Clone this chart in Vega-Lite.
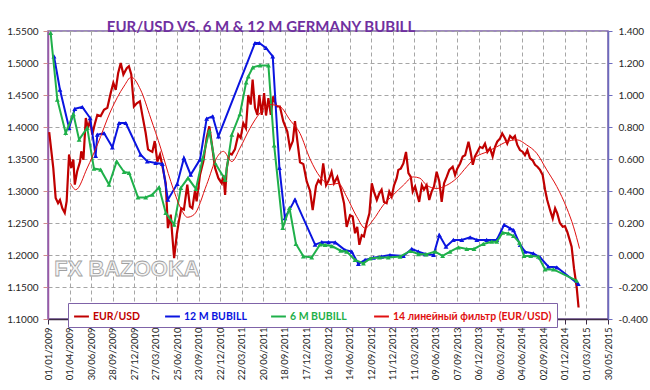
{
  "$schema": "https://vega.github.io/schema/vega-lite/v6.json",
  "width": 560,
  "height": 288,
  "autosize": {"type": "none"},
  "padding": {"left": 48, "top": 31, "right": 42, "bottom": 71},
  "background": "#ffffff",
  "config": {
    "view": {"stroke": "#7f63a8", "strokeWidth": 1.5},
    "font": "Lato",
    "axis": {"labelFont": "Lato", "labelFontSize": 10, "labelColor": "#262626", "title": null}
  },
  "title": {
    "text": "EUR/USD VS. 6 M & 12 M GERMANY BUBILL",
    "frame": "group",
    "anchor": "middle",
    "dx": -67,
    "offset": -9,
    "font": "Lato",
    "fontSize": 15,
    "fontWeight": "bold",
    "color": "#7030a0"
  },
  "datasets": {
    "eurusd": [
      {"date":"2009-01-06","rate":1.392},{"date":"2009-01-23","rate":1.336},{"date":"2009-02-02","rate":1.289},{"date":"2009-02-12","rate":1.281},{"date":"2009-02-20","rate":1.286},{"date":"2009-03-02","rate":1.273},{"date":"2009-03-12","rate":1.266},{"date":"2009-03-20","rate":1.284},{"date":"2009-03-30","rate":1.357},{"date":"2009-04-08","rate":1.336},{"date":"2009-04-17","rate":1.349},{"date":"2009-04-23","rate":1.310},{"date":"2009-05-03","rate":1.331},{"date":"2009-05-15","rate":1.346},{"date":"2009-05-20","rate":1.362},{"date":"2009-05-29","rate":1.349},{"date":"2009-06-08","rate":1.414},{"date":"2009-06-17","rate":1.398},{"date":"2009-06-26","rate":1.411},{"date":"2009-07-05","rate":1.388},{"date":"2009-07-15","rate":1.404},{"date":"2009-07-26","rate":1.419},{"date":"2009-08-09","rate":1.417},{"date":"2009-08-23","rate":1.427},{"date":"2009-09-06","rate":1.430},{"date":"2009-09-20","rate":1.453},{"date":"2009-10-01","rate":1.469},{"date":"2009-10-11","rate":1.458},{"date":"2009-10-21","rate":1.484},{"date":"2009-11-01","rate":1.500},{"date":"2009-11-12","rate":1.482},{"date":"2009-11-26","rate":1.492},{"date":"2009-12-05","rate":1.495},{"date":"2009-12-15","rate":1.482},{"date":"2009-12-26","rate":1.432},
      {"date":"2010-01-07","rate":1.437},{"date":"2010-01-20","rate":1.440},{"date":"2010-01-30","rate":1.419},{"date":"2010-02-13","rate":1.391},{"date":"2010-02-23","rate":1.365},{"date":"2010-03-03","rate":1.363},{"date":"2010-03-13","rate":1.361},{"date":"2010-03-23","rate":1.378},{"date":"2010-04-03","rate":1.346},{"date":"2010-04-14","rate":1.357},{"date":"2010-04-24","rate":1.339},{"date":"2010-05-08","rate":1.312},{"date":"2010-05-17","rate":1.242},{"date":"2010-05-29","rate":1.263},{"date":"2010-06-04","rate":1.232},{"date":"2010-06-12","rate":1.195},{"date":"2010-06-23","rate":1.232},{"date":"2010-07-02","rate":1.253},{"date":"2010-07-12","rate":1.273},{"date":"2010-07-23","rate":1.271},{"date":"2010-08-06","rate":1.310},{"date":"2010-08-17","rate":1.276},{"date":"2010-08-27","rate":1.273},{"date":"2010-09-07","rate":1.300},{"date":"2010-09-14","rate":1.284},{"date":"2010-09-28","rate":1.325},{"date":"2010-10-12","rate":1.346},{"date":"2010-10-26","rate":1.383},{"date":"2010-11-06","rate":1.401},{"date":"2010-11-16","rate":1.375},{"date":"2010-11-30","rate":1.336},{"date":"2010-12-14","rate":1.320},{"date":"2010-12-28","rate":1.312},
      {"date":"2011-01-04","rate":1.325},{"date":"2011-01-11","rate":1.294},{"date":"2011-01-18","rate":1.336},{"date":"2011-01-29","rate":1.359},{"date":"2011-02-08","rate":1.357},{"date":"2011-02-21","rate":1.365},{"date":"2011-03-07","rate":1.388},{"date":"2011-03-17","rate":1.383},{"date":"2011-03-28","rate":1.406},{"date":"2011-04-08","rate":1.398},{"date":"2011-04-18","rate":1.450},{"date":"2011-04-28","rate":1.435},{"date":"2011-05-06","rate":1.474},{"date":"2011-05-16","rate":1.430},{"date":"2011-05-26","rate":1.419},{"date":"2011-06-03","rate":1.450},{"date":"2011-06-13","rate":1.419},{"date":"2011-06-23","rate":1.453},{"date":"2011-07-01","rate":1.418},{"date":"2011-07-11","rate":1.445},{"date":"2011-07-21","rate":1.419},{"date":"2011-07-31","rate":1.448},{"date":"2011-08-14","rate":1.432},{"date":"2011-08-28","rate":1.432},{"date":"2011-09-11","rate":1.409},{"date":"2011-09-28","rate":1.393},{"date":"2011-10-09","rate":1.367},{"date":"2011-10-21","rate":1.378},{"date":"2011-10-30","rate":1.409},{"date":"2011-11-09","rate":1.378},{"date":"2011-11-20","rate":1.345},{"date":"2011-12-04","rate":1.342},{"date":"2011-12-18","rate":1.315},
      {"date":"2012-01-01","rate":1.300},{"date":"2012-01-12","rate":1.270},{"date":"2012-01-26","rate":1.308},{"date":"2012-02-05","rate":1.317},{"date":"2012-02-15","rate":1.312},{"date":"2012-02-25","rate":1.343},{"date":"2012-03-08","rate":1.309},{"date":"2012-03-17","rate":1.315},{"date":"2012-03-31","rate":1.330},{"date":"2012-04-10","rate":1.312},{"date":"2012-04-24","rate":1.322},{"date":"2012-05-08","rate":1.304},{"date":"2012-05-22","rate":1.281},{"date":"2012-06-02","rate":1.244},{"date":"2012-06-16","rate":1.262},{"date":"2012-06-27","rate":1.260},{"date":"2012-07-07","rate":1.234},{"date":"2012-07-16","rate":1.244},{"date":"2012-07-25","rate":1.216},{"date":"2012-08-04","rate":1.231},{"date":"2012-08-13","rate":1.229},{"date":"2012-08-25","rate":1.250},{"date":"2012-09-05","rate":1.265},{"date":"2012-09-15","rate":1.312},{"date":"2012-09-24","rate":1.299},{"date":"2012-10-06","rate":1.286},{"date":"2012-10-16","rate":1.296},{"date":"2012-10-26","rate":1.302},{"date":"2012-11-05","rate":1.283},{"date":"2012-11-16","rate":1.281},{"date":"2012-11-27","rate":1.299},{"date":"2012-12-07","rate":1.291},{"date":"2012-12-17","rate":1.309},{"date":"2012-12-28","rate":1.320},
      {"date":"2013-01-04","rate":1.333},{"date":"2013-01-14","rate":1.335},{"date":"2013-01-25","rate":1.343},{"date":"2013-02-05","rate":1.361},{"date":"2013-02-15","rate":1.328},{"date":"2013-02-25","rate":1.322},{"date":"2013-03-05","rate":1.299},{"date":"2013-03-15","rate":1.307},{"date":"2013-03-24","rate":1.294},{"date":"2013-04-01","rate":1.283},{"date":"2013-04-12","rate":1.309},{"date":"2013-04-21","rate":1.302},{"date":"2013-05-02","rate":1.309},{"date":"2013-05-13","rate":1.286},{"date":"2013-05-23","rate":1.299},{"date":"2013-06-02","rate":1.307},{"date":"2013-06-13","rate":1.330},{"date":"2013-06-24","rate":1.315},{"date":"2013-07-04","rate":1.283},{"date":"2013-07-14","rate":1.312},{"date":"2013-07-25","rate":1.322},{"date":"2013-08-05","rate":1.333},{"date":"2013-08-19","rate":1.338},{"date":"2013-08-29","rate":1.325},{"date":"2013-09-07","rate":1.335},{"date":"2013-09-19","rate":1.343},{"date":"2013-09-30","rate":1.354},{"date":"2013-10-10","rate":1.356},{"date":"2013-10-24","rate":1.377},{"date":"2013-11-02","rate":1.361},{"date":"2013-11-11","rate":1.341},{"date":"2013-11-20","rate":1.354},{"date":"2013-11-30","rate":1.361},{"date":"2013-12-11","rate":1.369},{"date":"2013-12-22","rate":1.367},
      {"date":"2014-01-01","rate":1.374},{"date":"2014-01-11","rate":1.361},{"date":"2014-01-22","rate":1.367},{"date":"2014-02-02","rate":1.354},{"date":"2014-02-12","rate":1.369},{"date":"2014-02-21","rate":1.377},{"date":"2014-03-05","rate":1.382},{"date":"2014-03-14","rate":1.390},{"date":"2014-03-26","rate":1.382},{"date":"2014-04-04","rate":1.374},{"date":"2014-04-16","rate":1.386},{"date":"2014-04-27","rate":1.382},{"date":"2014-05-06","rate":1.386},{"date":"2014-05-16","rate":1.372},{"date":"2014-05-27","rate":1.364},{"date":"2014-06-08","rate":1.361},{"date":"2014-06-17","rate":1.356},{"date":"2014-06-27","rate":1.364},{"date":"2014-07-08","rate":1.351},{"date":"2014-07-19","rate":1.348},{"date":"2014-07-29","rate":1.341},{"date":"2014-08-08","rate":1.338},{"date":"2014-08-19","rate":1.333},{"date":"2014-08-30","rate":1.325},{"date":"2014-09-09","rate":1.302},{"date":"2014-09-18","rate":1.286},{"date":"2014-09-30","rate":1.270},{"date":"2014-10-11","rate":1.257},{"date":"2014-10-21","rate":1.273},{"date":"2014-10-30","rate":1.265},{"date":"2014-11-10","rate":1.250},{"date":"2014-11-22","rate":1.244},{"date":"2014-12-01","rate":1.245},{"date":"2014-12-11","rate":1.236},{"date":"2014-12-19","rate":1.226},{"date":"2014-12-29","rate":1.213},
      {"date":"2015-01-08","rate":1.179},{"date":"2015-01-19","rate":1.150},{"date":"2015-01-27","rate":1.118}
    ],
    "filter14": [
      {"date":"2009-04-05","rate":1.312},{"date":"2009-04-27","rate":1.302},{"date":"2009-06-14","rate":1.336},{"date":"2009-07-26","rate":1.372},{"date":"2009-09-20","rate":1.425},{"date":"2009-11-15","rate":1.464},{"date":"2009-12-15","rate":1.478},{"date":"2010-01-23","rate":1.458},{"date":"2010-03-06","rate":1.414},{"date":"2010-04-17","rate":1.367},{"date":"2010-05-29","rate":1.315},{"date":"2010-07-10","rate":1.273},{"date":"2010-08-06","rate":1.259},{"date":"2010-09-03","rate":1.263},{"date":"2010-10-26","rate":1.310},{"date":"2010-12-07","rate":1.352},{"date":"2011-01-04","rate":1.362},{"date":"2011-02-08","rate":1.346},{"date":"2011-03-14","rate":1.367},{"date":"2011-04-25","rate":1.398},{"date":"2011-06-06","rate":1.422},{"date":"2011-07-18","rate":1.435},{"date":"2011-08-28","rate":1.432},{"date":"2011-10-09","rate":1.411},{"date":"2011-11-20","rate":1.390},{"date":"2012-01-01","rate":1.350},{"date":"2012-02-12","rate":1.322},{"date":"2012-03-24","rate":1.310},{"date":"2012-04-28","rate":1.312},{"date":"2012-06-02","rate":1.291},{"date":"2012-07-14","rate":1.260},{"date":"2012-08-18","rate":1.242},{"date":"2012-09-21","rate":1.255},{"date":"2012-11-02","rate":1.278},{"date":"2012-12-14","rate":1.294},{"date":"2013-01-25","rate":1.309},{"date":"2013-03-07","rate":1.322},{"date":"2013-04-04","rate":1.320},{"date":"2013-05-02","rate":1.309},{"date":"2013-06-13","rate":1.304},{"date":"2013-07-25","rate":1.309},{"date":"2013-09-05","rate":1.320},{"date":"2013-10-17","rate":1.338},{"date":"2013-11-27","rate":1.354},{"date":"2014-01-08","rate":1.361},{"date":"2014-02-19","rate":1.369},{"date":"2014-04-02","rate":1.377},{"date":"2014-05-14","rate":1.380},{"date":"2014-06-24","rate":1.372},{"date":"2014-08-05","rate":1.359},{"date":"2014-09-16","rate":1.333},{"date":"2014-10-28","rate":1.307},{"date":"2014-12-09","rate":1.273},{"date":"2015-01-06","rate":1.244},{"date":"2015-01-31","rate":1.210}
    ],
    "bubill12": [
      {"date":"2009-01-26","yield":1.242},{"date":"2009-02-20","yield":1.033},{"date":"2009-03-30","yield":0.794},{"date":"2009-04-23","yield":0.914},{"date":"2009-05-24","yield":0.925},{"date":"2009-06-26","yield":0.856},{"date":"2009-07-19","yield":0.619},{"date":"2009-07-26","yield":0.752},{"date":"2009-08-23","yield":0.762},{"date":"2009-09-27","yield":0.673},{"date":"2009-10-25","yield":0.825},{"date":"2009-11-22","yield":0.825},{"date":"2010-01-23","yield":0.627},{"date":"2010-02-20","yield":0.585},{"date":"2010-03-27","yield":0.575},{"date":"2010-04-24","yield":0.569},{"date":"2010-05-17","yield":0.346},{"date":"2010-06-25","yield":0.444},{"date":"2010-07-23","yield":0.606},{"date":"2010-08-20","yield":0.502},{"date":"2010-09-28","yield":0.596},{"date":"2010-10-26","yield":0.852},{"date":"2010-11-20","yield":0.867},{"date":"2010-12-14","yield":0.742},{"date":"2011-05-16","yield":1.325},{"date":"2011-06-03","yield":1.325},{"date":"2011-07-01","yield":1.294},{"date":"2011-07-29","yield":1.242},{"date":"2011-08-26","yield":0.544},{"date":"2011-09-18","yield":0.231},{"date":"2011-10-30","yield":0.346},{"date":"2012-01-22","yield":0.065},{"date":"2012-02-19","yield":0.080},{"date":"2012-03-18","yield":0.080},{"date":"2012-04-15","yield":0.079},{"date":"2012-05-26","yield":0.031},{"date":"2012-06-23","yield":0.021},{"date":"2012-07-21","yield":-0.056},{"date":"2012-08-18","yield":-0.031},{"date":"2012-09-22","yield":-0.017},{"date":"2012-10-26","yield":-0.010},{"date":"2012-11-30","yield":0.000},{"date":"2013-01-25","yield":-0.006},{"date":"2013-03-01","yield":0.038},{"date":"2013-03-29","yield":0.021},{"date":"2013-04-26","yield":0.006},{"date":"2013-05-31","yield":0.000},{"date":"2013-06-24","yield":0.125},{"date":"2013-07-22","yield":0.052},{"date":"2013-08-22","yield":0.094},{"date":"2013-09-26","yield":0.094},{"date":"2013-10-31","yield":0.110},{"date":"2013-11-28","yield":0.094},{"date":"2014-01-08","yield":0.094},{"date":"2014-02-19","yield":0.094},{"date":"2014-03-22","yield":0.188},{"date":"2014-04-16","yield":0.167},{"date":"2014-04-30","yield":0.156},{"date":"2014-05-28","yield":0.063},{"date":"2014-06-17","yield":0.021},{"date":"2014-07-22","yield":0.010},{"date":"2014-08-19","yield":-0.015},{"date":"2014-09-23","yield":-0.073},{"date":"2014-10-28","yield":-0.077},{"date":"2015-01-26","yield":-0.181}
    ],
    "bubill6": [
      {"date":"2009-01-12","yield":1.388},{"date":"2009-02-09","yield":0.971},{"date":"2009-03-16","yield":0.763},{"date":"2009-04-17","yield":0.881},{"date":"2009-05-11","yield":0.721},{"date":"2009-06-14","yield":0.794},{"date":"2009-07-12","yield":0.540},{"date":"2009-08-09","yield":0.533},{"date":"2009-09-13","yield":0.440},{"date":"2009-10-15","yield":0.585},{"date":"2009-11-15","yield":0.519},{"date":"2009-12-06","yield":0.513},{"date":"2010-01-12","yield":0.360},{"date":"2010-02-13","yield":0.360},{"date":"2010-03-13","yield":0.377},{"date":"2010-04-10","yield":0.423},{"date":"2010-05-08","yield":0.263},{"date":"2010-06-12","yield":0.190},{"date":"2010-07-10","yield":0.419},{"date":"2010-08-09","yield":0.481},{"date":"2010-09-11","yield":0.413},{"date":"2010-10-10","yield":0.606},{"date":"2010-11-06","yield":0.777},{"date":"2010-11-30","yield":0.575},{"date":"2011-01-11","yield":0.471},{"date":"2011-02-08","yield":0.752},{"date":"2011-03-14","yield":0.881},{"date":"2011-04-09","yield":1.079},{"date":"2011-04-18","yield":1.117},{"date":"2011-05-07","yield":1.173},{"date":"2011-06-06","yield":1.185},{"date":"2011-07-11","yield":1.185},{"date":"2011-08-04","yield":0.685},{"date":"2011-09-09","yield":0.169},{"date":"2011-10-07","yield":0.294},{"date":"2011-11-03","yield":0.069},{"date":"2011-12-04","yield":-0.008},{"date":"2012-01-08","yield":-0.015},{"date":"2012-02-12","yield":0.066},{"date":"2012-03-04","yield":0.063},{"date":"2012-04-01","yield":0.056},{"date":"2012-05-08","yield":0.027},{"date":"2012-06-02","yield":0.021},{"date":"2012-07-07","yield":-0.031},{"date":"2012-08-11","yield":-0.052},{"date":"2012-09-08","yield":-0.021},{"date":"2012-10-17","yield":-0.015},{"date":"2012-11-23","yield":-0.015},{"date":"2013-01-11","yield":-0.010},{"date":"2013-02-22","yield":0.025},{"date":"2013-03-29","yield":0.006},{"date":"2013-04-30","yield":0.004},{"date":"2013-06-06","yield":0.021},{"date":"2013-07-08","yield":-0.006},{"date":"2013-08-08","yield":0.021},{"date":"2013-09-12","yield":0.048},{"date":"2013-10-17","yield":0.038},{"date":"2013-11-16","yield":0.038},{"date":"2013-12-25","yield":0.069},{"date":"2014-01-29","yield":0.083},{"date":"2014-02-19","yield":0.083},{"date":"2014-03-16","yield":0.140},{"date":"2014-04-09","yield":0.135},{"date":"2014-04-30","yield":0.119},{"date":"2014-05-25","yield":0.077},{"date":"2014-06-13","yield":-0.006},{"date":"2014-07-11","yield":-0.006},{"date":"2014-08-12","yield":-0.010},{"date":"2014-09-09","yield":-0.090},{"date":"2014-10-14","yield":-0.090},{"date":"2015-01-19","yield":-0.160}
    ],
    "watermark": [
      {"date":"2009-11-27","rate":1.178,"label":"FX BAZOOKA"}
    ]
  },
  "encoding": {
    "x": {
      "field": "date",
      "type": "temporal",
      "scale": {
        "type": "utc",
        "domain": [{"year":2009,"month":1,"date":1,"utc":true},{"year":2015,"month":5,"date":30,"utc":true}]
      },
      "axis": {
        "values": [
          {"year":2009,"month":1,"date":1,"utc":true},{"year":2009,"month":4,"date":1,"utc":true},{"year":2009,"month":6,"date":30,"utc":true},{"year":2009,"month":9,"date":28,"utc":true},{"year":2009,"month":12,"date":27,"utc":true},
          {"year":2010,"month":3,"date":27,"utc":true},{"year":2010,"month":6,"date":25,"utc":true},{"year":2010,"month":9,"date":23,"utc":true},{"year":2010,"month":12,"date":22,"utc":true},
          {"year":2011,"month":3,"date":22,"utc":true},{"year":2011,"month":6,"date":20,"utc":true},{"year":2011,"month":9,"date":18,"utc":true},{"year":2011,"month":12,"date":17,"utc":true},
          {"year":2012,"month":3,"date":16,"utc":true},{"year":2012,"month":6,"date":14,"utc":true},{"year":2012,"month":9,"date":12,"utc":true},{"year":2012,"month":12,"date":11,"utc":true},
          {"year":2013,"month":3,"date":11,"utc":true},{"year":2013,"month":6,"date":9,"utc":true},{"year":2013,"month":9,"date":7,"utc":true},{"year":2013,"month":12,"date":6,"utc":true},
          {"year":2014,"month":3,"date":6,"utc":true},{"year":2014,"month":6,"date":4,"utc":true},{"year":2014,"month":9,"date":2,"utc":true},{"year":2014,"month":12,"date":1,"utc":true},
          {"year":2015,"month":3,"date":1,"utc":true},{"year":2015,"month":5,"date":30,"utc":true}
        ],
        "format": "%d/%m/%Y",
        "labelAngle": -90,
        "labelFontSize": 9.5,
        "labelPadding": 3,
        "labelOverlap": false,
        "labelFlush": false,
        "labelBound": false,
        "grid": true,
        "gridColor": "#a6a6a6",
        "gridDash": [4, 3],
        "domainColor": "#3d2b45",
        "domainWidth": 1.5,
        "tickColor": "#3d2b45",
        "tickSize": 5,
        "title": null
      }
    }
  },
  "layer": [
    {
      "data": {"name": "watermark"},
      "mark": {"type": "text", "font": "Liberation Sans", "fontSize": 22, "fontWeight": "bold", "fill": "#f4f4f4", "stroke": "#a0a0a0", "strokeWidth": 0.8, "align": "center", "baseline": "middle"},
      "encoding": {
        "y": {"field": "rate", "type": "quantitative", "scale": {"domain": [1.1, 1.55], "zero": false, "nice": false}, "axis": null},
        "text": {"field": "label"}
      }
    },
    {
      "data": {"name": "eurusd"},
      "mark": {"type": "line", "strokeWidth": 2.2},
      "encoding": {
        "y": {
          "field": "rate", "type": "quantitative",
          "scale": {"domain": [1.1, 1.55], "zero": false, "nice": false},
          "axis": {
            "orient": "left",
            "values": [1.1, 1.15, 1.2, 1.25, 1.3, 1.35, 1.4, 1.45, 1.5, 1.55],
            "format": ".4f",
            "grid": true,
            "gridColor": "#a6a6a6",
            "gridDash": [4, 3],
            "domainColor": "#9b59a6",
            "domainWidth": 1.5,
            "tickColor": "#d08c8c",
            "tickSize": 5,
            "labelPadding": 5,
            "title": null
          }
        },
        "color": {
          "datum": "EUR/USD",
          "type": "nominal",
          "scale": {
            "domain": ["EUR/USD", "12 M BUBILL", "6  M BUBILL", "14 линейный фильтр (EUR/USD)"],
            "range": ["#c00000", "#0a14e0", "#1fb04a", "#e01010"]
          },
          "legend": {
            "orient": "none",
            "legendX": 20,
            "legendY": 272,
            "direction": "horizontal",
            "columns": 4,
            "title": null,
            "symbolType": "stroke",
            "symbolSize": 220,
            "symbolStrokeWidth": 2,
            "labelFont": "Lato",
            "labelFontSize": 10.5,
            "labelFontWeight": "bold",
            "labelLimit": 300,
            "fillColor": "#ffffff",
            "strokeColor": "#7f63a8",
            "padding": 5,
            "columnPadding": 20,
            "labelOffset": 3,
            "encoding": {
              "labels": {"fill": {"value": {"expr": "scale('color', datum.value)"}}}
            }
          }
        }
      }
    },
    {
      "data": {"name": "bubill12"},
      "mark": {"type": "line", "strokeWidth": 2, "point": {"shape": "triangle-up", "size": 24, "filled": true}},
      "encoding": {
        "y": {
          "field": "yield", "type": "quantitative",
          "scale": {"domain": [-0.4, 1.4], "zero": false, "nice": false},
          "axis": {
            "orient": "right",
            "values": [-0.4, -0.2, 0, 0.2, 0.4, 0.6, 0.8, 1.0, 1.2, 1.4],
            "labelExpr": "replace(format(datum.value, '.3f'), '\u2212', '-')",
            "grid": false,
            "domainColor": "#6b6bbf",
            "domainWidth": 1.5,
            "tickColor": "#6b6bbf",
            "tickSize": 4,
            "labelPadding": 6,
            "title": null
          }
        },
        "color": {"datum": "12 M BUBILL", "type": "nominal"}
      }
    },
    {
      "data": {"name": "bubill6"},
      "mark": {"type": "line", "strokeWidth": 2, "point": {"shape": "triangle-up", "size": 24, "filled": true}},
      "encoding": {
        "y": {"field": "yield", "type": "quantitative", "scale": {"domain": [-0.4, 1.4], "zero": false, "nice": false}, "axis": null},
        "color": {"datum": "6  M BUBILL", "type": "nominal"}
      }
    },
    {
      "data": {"name": "filter14"},
      "mark": {"type": "line", "strokeWidth": 1, "interpolate": "monotone"},
      "encoding": {
        "y": {"field": "rate", "type": "quantitative", "scale": {"domain": [1.1, 1.55], "zero": false, "nice": false}, "axis": null},
        "color": {"datum": "14 линейный фильтр (EUR/USD)", "type": "nominal"}
      }
    }
  ],
  "resolve": {"scale": {"y": "independent"}}
}
